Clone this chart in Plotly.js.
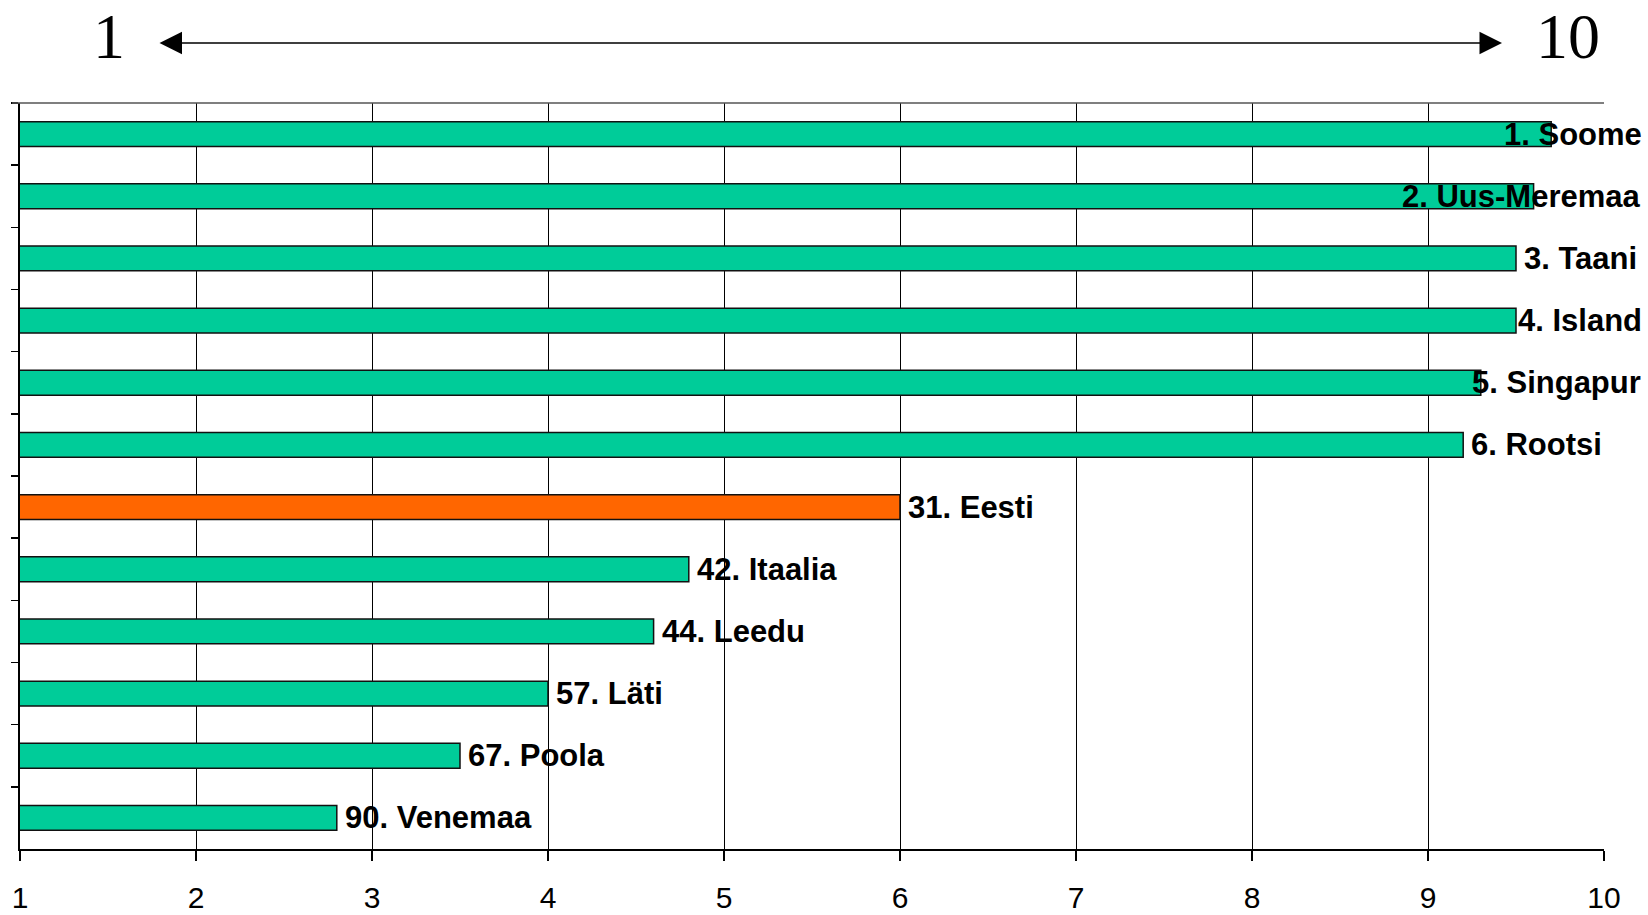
<!DOCTYPE html>
<html>
<head>
<meta charset="utf-8">
<script src="https://cdn.plot.ly/plotly-3.0.1.min.js"></script>
<style>
  html, body { margin: 0; padding: 0; background: #fff; }
  #chart { width: 1648px; height: 915px; }
</style>
</head>
<body>
<div id="chart"></div>
<script>
// country ranking, index values
const countries = ["1. Soome", "2. Uus-Meremaa", "3. Taani", "4. Island", "5. Singapur", "6. Rootsi",
  "31. Eesti", "42. Itaalia", "44. Leedu", "57. Läti", "67. Poola", "90. Venemaa"];
const scores = [9.7, 9.6, 9.5, 9.5, 9.3, 9.2, 6.0, 4.8, 4.6, 4.0, 3.5, 2.8];
const highlight = "31. Eesti";
const xTicks = [1, 2, 3, 4, 5, 6, 7, 8, 9, 10];

const barColors = countries.map(c => c === highlight ? "#FF6600" : "#00CC99");

const trace = {
  type: "bar",
  orientation: "h",
  x: scores,
  y: countries,
  marker: { color: barColors, line: { color: "#111", width: 1.5 } },
  hoverinfo: "x+y"
};

// bar end labels
const labelAnns = countries.map((c, i) => ({
  x: scores[i], y: c, xref: "x", yref: "y",
  text: c, showarrow: false,
  xanchor: "left", yanchor: "middle", xshift: 6, yshift: 0,
  font: { family: "Liberation Sans, Arial, sans-serif", size: 31, color: "#000", weight: "bold" }
}));

const topAnns = [
  { x: 0.0562, y: 1.0885, xref: "paper", yref: "paper", text: "1", showarrow: false,
    xanchor: "center", yanchor: "middle",
    font: { family: "Liberation Serif, Times New Roman, serif", size: 64, color: "#000" } },
  { x: 0.977, y: 1.0885, xref: "paper", yref: "paper", text: "10", showarrow: false,
    xanchor: "center", yanchor: "middle",
    font: { family: "Liberation Serif, Times New Roman, serif", size: 64, color: "#000" } },
  { x: 0.9356, y: 1.0804, xref: "paper", yref: "paper", text: "", showarrow: true,
    ax: -1344, ay: 0, axref: "pixel", ayref: "pixel",
    arrowhead: 2, arrowside: "end+start", arrowwidth: 1.5, arrowsize: 3, arrowcolor: "#000",
    standoff: 0, startstandoff: 0 }
];

const layout = {
  width: 1648,
  height: 915,
  margin: { l: 20, r: 44, t: 103, b: 66 },
  paper_bgcolor: "#fff",
  plot_bgcolor: "#fff",
  showlegend: false,
  bargap: 0.6,
  font: { family: "Liberation Sans, Arial, sans-serif", color: "#000" },
  xaxis: {
    range: [1, 10],
    tickvals: xTicks,
    ticktext: xTicks.map(String),
    showgrid: true, gridcolor: "#000", gridwidth: 1,
    showline: true, linecolor: "#000", linewidth: 2,
    ticks: "outside", ticklen: 10, tickwidth: 1.5, tickcolor: "#000",
    ticklabelstandoff: 11,
    tickfont: { size: 30 },
    zeroline: false, fixedrange: true
  },
  yaxis: {
    autorange: "reversed",
    showticklabels: false,
    showgrid: false,
    showline: true, linecolor: "#000", linewidth: 2,
    ticks: "outside", tickson: "boundaries", ticklen: 7, tickwidth: 1.5, tickcolor: "#000",
    zeroline: false, fixedrange: true
  },
  shapes: [
    { type: "line", xref: "paper", yref: "paper", x0: -0.005, x1: 1, y0: 1, y1: 1,
      line: { color: "#555", width: 1.5 } }
  ],
  annotations: labelAnns.concat(topAnns)
};

Plotly.newPlot("chart", [trace], layout, { displayModeBar: false, staticPlot: true }).then(gd => {
  // keep labels inside the figure: shift left the ones that would run off the right edge
  const limit = 1643;
  const updates = {};
  labelAnns.forEach((a, i) => {
    const el = gd.querySelector(`.annotation[data-index="${i}"]`);
    if (!el) return;
    const box = el.getBoundingClientRect();
    if (box.right > limit) updates[`annotations[${i}].xshift`] = 6 - (box.right - limit);
  });
  if (Object.keys(updates).length) Plotly.relayout(gd, updates);
});
</script>
</body>
</html>
